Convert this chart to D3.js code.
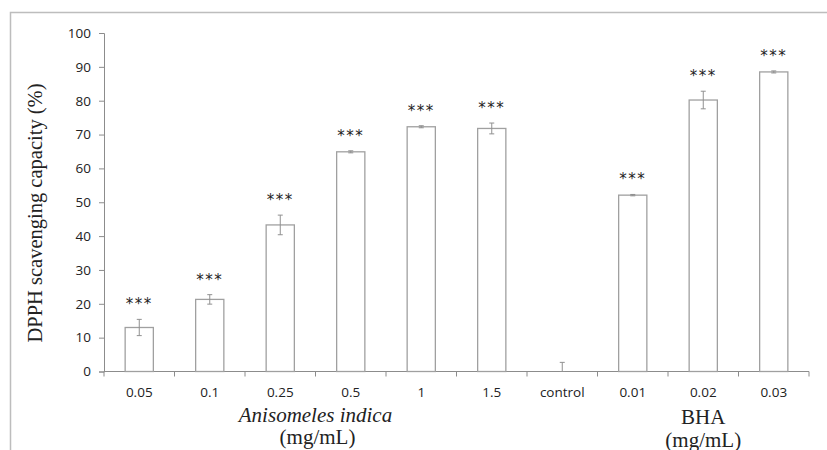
<!DOCTYPE html>
<html>
<head>
<meta charset="utf-8">
<script src="https://cdn.jsdelivr.net/npm/d3@7"></script>
<style>
  html, body { margin: 0; padding: 0; background: #fff; }
  svg { display: block; }
  .serif { font-family: "Liberation Serif", "DejaVu Serif", "Times New Roman", Times, serif; }
</style>
</head>
<body>
<div id="chart"></div>
<script>
'use strict'

const categories = ['0.05', '0.1', '0.25', '0.5', '1', '1.5', 'control', '0.01', '0.02', '0.03']
const values = [13.0, 21.3, 43.3, 64.9, 72.3, 71.8, 0, 52.1, 80.2, 88.5]
const errors = [2.4, 1.4, 2.9, 0.3, 0.3, 1.6, 2.7, 0.2, 2.6, 0.3]
const significance = ['***', '***', '***', '***', '***', '***', '', '***', '***', '***']
const yTicks = [0, 10, 20, 30, 40, 50, 60, 70, 80, 90, 100]

const width = 827
const height = 450
const margin = { top: 33, right: 18, bottom: 78, left: 104 }

const svg = d3.select('#chart')
  .append('svg')
  .attr('width', width)
  .attr('height', height)

// outer frame, cut off at the right and bottom
svg.append('rect')
  .attr('x', 10.5)
  .attr('y', 12.5)
  .attr('width', width)
  .attr('height', height)
  .attr('fill', 'none')
  .attr('stroke', '#bdbdbd')
  .attr('stroke-width', 1.5)

const x = d3.scaleBand()
  .domain(categories)
  .range([margin.left, width - margin.right])
  .paddingInner(0.6)
  .paddingOuter(0.3)

const xEdges = d3.scaleBand()
  .domain(categories)
  .range([margin.left, width - margin.right])

const y = d3.scaleLinear()
  .domain([0, 100])
  .range([height - margin.bottom - 0.5, margin.top])

const tickFont = '"Open Sans", Lato, sans-serif'
const axisColor = '#8c8c8c'

// y axis
const yAxisG = svg.append('g')
  .attr('transform', `translate(${margin.left}, 0)`)
  .call(d3.axisLeft(y).tickValues(yTicks).tickSize(5).tickPadding(8))
yAxisG.select('.domain').attr('stroke', axisColor)
yAxisG.selectAll('.tick line').attr('stroke', axisColor)
yAxisG.selectAll('.tick text')
  .attr('font-family', tickFont)
  .attr('font-size', 13.5)
  .attr('fill', '#222')

// x axis with ticks on category boundaries
const xAxisG = svg.append('g')
  .attr('transform', `translate(0, ${y(0)})`)
xAxisG.append('line')
  .attr('x1', margin.left)
  .attr('x2', width - margin.right)
  .attr('stroke', axisColor)
const edges = categories.map((c) => xEdges(c)).concat([xEdges(categories[categories.length - 1]) + xEdges.bandwidth()])
xAxisG.selectAll('.edge')
  .data(edges)
  .join('line')
  .attr('class', 'edge')
  .attr('x1', (d) => d)
  .attr('x2', (d) => d)
  .attr('y1', 0)
  .attr('y2', 5)
  .attr('stroke', axisColor)
xAxisG.selectAll('.label')
  .data(categories)
  .join('text')
  .attr('class', 'label')
  .attr('x', (d) => x(d) + x.bandwidth() / 2)
  .attr('y', 25)
  .attr('text-anchor', 'middle')
  .attr('font-family', tickFont)
  .attr('font-size', 13.5)
  .attr('fill', '#222')
  .text((d) => d)

// bars
svg.append('g')
  .selectAll('rect')
  .data(values)
  .join('rect')
  .attr('x', (d, i) => x(categories[i]))
  .attr('y', (d) => y(d))
  .attr('width', x.bandwidth())
  .attr('height', (d) => y(0) - y(d))
  .attr('fill', '#fff')
  .attr('stroke', '#a0a0a0')
  .attr('stroke-width', 1.3)

// error bars
const errG = svg.append('g')
  .attr('stroke', '#909090')
  .attr('stroke-width', 1)
values.forEach((v, i) => {
  const cx = x(categories[i]) + x.bandwidth() / 2
  const lo = Math.max(0, v - errors[i])
  const hi = v + errors[i]
  errG.append('line').attr('x1', cx).attr('x2', cx).attr('y1', y(lo)).attr('y2', y(hi))
  errG.append('line').attr('x1', cx - 2.5).attr('x2', cx + 2.5).attr('y1', y(hi)).attr('y2', y(hi))
  errG.append('line').attr('x1', cx - 2.5).attr('x2', cx + 2.5).attr('y1', y(lo)).attr('y2', y(lo))
})

// significance stars
svg.append('g')
  .selectAll('text')
  .data(significance)
  .join('text')
  .attr('x', (d, i) => x(categories[i]) + x.bandwidth() / 2)
  .attr('y', (d, i) => y(values[i] + errors[i]) - 10)
  .attr('text-anchor', 'middle')
  .attr('font-family', '"DejaVu Sans", sans-serif')
  .attr('font-size', 15)
  .attr('letter-spacing', 1.5)
  .attr('fill', '#222')
  .text((d) => d)

// axis titles
svg.append('text')
  .attr('class', 'serif')
  .attr('transform', 'translate(42, 213) rotate(-90)')
  .attr('text-anchor', 'middle')
  .attr('font-size', 20.5)
  .attr('fill', '#222')
  .text('DPPH scavenging capacity (%)')

const groupA = (x('0.25') + x('0.5') + x.bandwidth()) / 2
svg.append('text')
  .attr('class', 'serif')
  .attr('x', groupA)
  .attr('y', 422)
  .attr('text-anchor', 'middle')
  .attr('font-style', 'italic')
  .attr('font-size', 21)
  .attr('fill', '#222')
  .text('Anisomeles indica')
svg.append('text')
  .attr('class', 'serif')
  .attr('x', groupA + 2)
  .attr('y', 444)
  .attr('text-anchor', 'middle')
  .attr('font-size', 21)
  .attr('fill', '#222')
  .text('(mg/mL)')

const groupB = x('0.02') + x.bandwidth() / 2
svg.append('text')
  .attr('class', 'serif')
  .attr('x', groupB)
  .attr('y', 424)
  .attr('text-anchor', 'middle')
  .attr('font-size', 21)
  .attr('fill', '#222')
  .text('BHA')
svg.append('text')
  .attr('class', 'serif')
  .attr('x', groupB)
  .attr('y', 447)
  .attr('text-anchor', 'middle')
  .attr('font-size', 21)
  .attr('fill', '#222')
  .text('(mg/mL)')
</script>
</body>
</html>
